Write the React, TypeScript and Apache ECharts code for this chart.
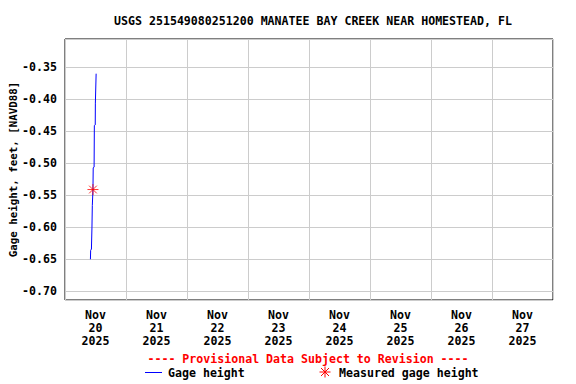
import React, { useEffect, useRef } from "react";
import * as echarts from "echarts";

const DAY = 86400000;
const T0 = Date.UTC(2025, 10, 20); // Nov 20 2025 00:00
const hour = (h: number) => T0 + h * 3600000;

const dayLabels = ["Nov\n20\n2025", "Nov\n21\n2025", "Nov\n22\n2025", "Nov\n23\n2025", "Nov\n24\n2025", "Nov\n25\n2025", "Nov\n26\n2025", "Nov\n27\n2025"];

const gageHours = [10.0, 10.1, 10.4, 10.6, 10.75, 11.0, 11.1, 11.45, 11.55, 11.9, 11.95, 12.25];
const gageValues = [-0.65, -0.636, -0.634, -0.601, -0.566, -0.541, -0.507, -0.506, -0.441, -0.44, -0.406, -0.36];

const measuredHours = [11.0];
const measuredValues = [-0.541];

const TITLE = "USGS 251549080251200 MANATEE BAY CREEK NEAR HOMESTEAD, FL";
const FONT = "DejaVu Sans Mono";

export default function App() {
  const ref = useRef<HTMLDivElement>(null);
  useEffect(() => {
    if (!ref.current) return;
    const chart = echarts.init(ref.current, null, { renderer: "svg" });
    const txt = { fontFamily: FONT, fontWeight: "bold" as const, fontSize: 11.6, color: "#000" };
    chart.setOption({
      animation: false,
      backgroundColor: "#fff",
      title: {
        text: TITLE,
        left: 308,
        top: 10,
        textAlign: "center",
        textStyle: { ...txt },
      },
      grid: {
        left: 65,
        right: 23,
        top: 39,
        bottom: 84,
        outerBoundsMode: "none",
        containLabel: false,
        show: true,
        borderColor: "#000",
        borderWidth: 1,
        backgroundColor: "transparent",
      },
      xAxis: [
        {
          type: "value",
          min: T0,
          max: T0 + 8 * DAY,
          interval: DAY,
          position: "bottom",
          axisLabel: { show: false },
          axisTick: { show: false },
          axisLine: { show: false },
          splitLine: { show: true, lineStyle: { color: "#cccccc", width: 1 } },
        },
        {
          type: "category",
          data: dayLabels,
          position: "bottom",
          boundaryGap: true,
          axisTick: { show: false },
          axisLine: { show: false },
          splitLine: { show: false },
          axisLabel: { ...txt, lineHeight: 13, margin: 8, interval: 0 },
        },
      ],
      yAxis: {
        type: "value",
        min: -0.7136,
        max: -0.3058,
        splitNumber: 8,
        name: "Gage height, feet, [NAVD88]",
        nameLocation: "middle",
        nameRotate: 90,
        nameGap: 46,
        nameMoveOverlap: false,
        nameTextStyle: { ...txt, fontSize: 10.8 },
        axisLine: { show: false },
        axisTick: { show: false },
        splitLine: { show: true, lineStyle: { color: "#cccccc", width: 1 } },
        axisLabel: {
          ...txt,
          margin: 8,
          formatter: (v: number) => {
            const k = v / 0.05;
            return Math.abs(k - Math.round(k)) < 1e-6 ? v.toFixed(2) : "";
          },
        },
      },
      series: [
        {
          name: "Gage height",
          type: "line",
          xAxisIndex: 0,
          data: gageHours.map((h, i) => [hour(h), gageValues[i]]),
          symbol: "none",
          lineStyle: { color: "#0000ff", width: 1 },
          itemStyle: { color: "#0000ff" },
        },
        {
          name: "Measured gage height",
          type: "scatter",
          xAxisIndex: 0,
          data: measuredHours.map((h, i) => [hour(h), measuredValues[i]]),
          symbol: "path://M5,0L5,10M0,5L10,5M1.5,1.5L8.5,8.5M1.5,8.5L8.5,1.5",
          symbolSize: 11,
          itemStyle: { color: "none", borderColor: "#ff0000", borderWidth: 1 },
          z: 5,
        },
      ],
      graphic: [
        {
          type: "text",
          x: 308,
          y: 358.5,
          style: {
            text: "---- Provisional Data Subject to Revision ----",
            fill: "#ff0000",
            font: `bold 11.6px "${FONT}"`,
            textAlign: "center",
            textVerticalAlign: "middle",
          },
        },
        { type: "line", shape: { x1: 145, y1: 372.5, x2: 162, y2: 372.5 }, style: { stroke: "#0000ff", lineWidth: 1 } },
        { type: "text", x: 168, y: 373, style: { text: "Gage height", fill: "#000", font: `bold 11.6px "${FONT}"`, textVerticalAlign: "middle" } },
        {
          type: "group",
          x: 325,
          y: 372,
          children: [
            { type: "line", shape: { x1: 0, y1: -5.5, x2: 0, y2: 5.5 }, style: { stroke: "#ff0000", lineWidth: 1 } },
            { type: "line", shape: { x1: -5.5, y1: 0, x2: 5.5, y2: 0 }, style: { stroke: "#ff0000", lineWidth: 1 } },
            { type: "line", shape: { x1: -4, y1: -4, x2: 4, y2: 4 }, style: { stroke: "#ff0000", lineWidth: 1 } },
            { type: "line", shape: { x1: -4, y1: 4, x2: 4, y2: -4 }, style: { stroke: "#ff0000", lineWidth: 1 } },
          ],
        },
        { type: "text", x: 339, y: 373, style: { text: "Measured gage height", fill: "#000", font: `bold 11.6px "${FONT}"`, textVerticalAlign: "middle" } },
      ],
    });
    return () => chart.dispose();
  }, []);
  return <div ref={ref} style={{ width: 576, height: 384, position: "absolute", left: 0, top: 0 }} />;
}
